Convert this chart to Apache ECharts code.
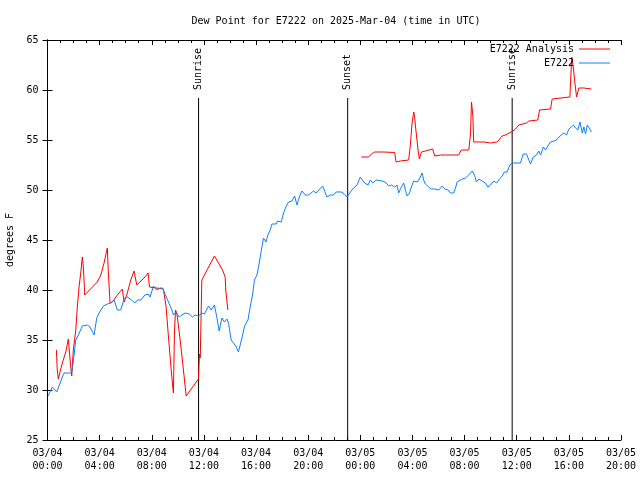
<!DOCTYPE html>
<html>
<head>
<meta charset="utf-8">
<script src="https://cdn.jsdelivr.net/npm/echarts@6/dist/echarts.min.js"></script>
<style>html,body{margin:0;padding:0;background:#fff}#c{width:640px;height:480px}</style>
</head>
<body>
<div id="c"></div>
<script>
// x values are hours since 2025-03-04 00:00 UTC
const xTickLabels = ['03/04\n00:00','03/04\n04:00','03/04\n08:00','03/04\n12:00','03/04\n16:00','03/04\n20:00',
                     '03/05\n00:00','03/05\n04:00','03/05\n08:00','03/05\n12:00','03/05\n16:00','03/05\n20:00'];

const analysisHours1 = [0.68,0.75,0.83,0.94,1.14,1.40,1.60,1.73,1.78,1.86,1.98,2.17,2.29,2.42,2.55,2.67,2.75,2.86,
  3.82,4.09,4.34,4.59,4.67,4.80,4.98,5.24,5.74,5.88,6.08,6.39,6.64,6.77,6.85,7.41,7.72,7.82,8.89,9.10,9.28,9.49,
  9.62,9.66,9.74,9.82,9.92,10.18,10.43,10.64,11.58,11.66,11.72,11.84,12.81,13.43,13.63,13.69,13.84];
const analysisValues1 = [34.0,32.0,31.1,31.7,32.7,33.8,35.1,35.3,32.3,31.4,34.0,36.0,38.3,40.3,41.7,43.3,42.3,39.5,
  40.8,41.5,42.7,44.2,41.7,38.7,38.8,39.3,40.1,38.8,39.5,41.0,41.9,41.7,40.5,41.2,41.7,40.3,40.1,38.3,35.3,32.0,
  30.2,29.7,35.7,38.0,37.7,35.0,32.0,29.4,31.1,33.6,33.2,41.0,43.4,42.0,41.3,39.8,38.0];
const analysisHours2 = [24.08,24.64,24.85,25.10,25.79,26.64,26.74,27.07,27.71,27.84,27.97,28.10,28.17,28.28,28.43,28.53,
  28.69,28.99,29.55,29.71,30.15,30.53,30.66,30.99,31.55,31.74,32.32,32.45,32.53,32.63,32.70,33.47,33.60,33.99,34.50,
  34.88,35.14,35.58,35.91,36.16,36.75,36.93,37.62,37.75,38.59,38.72,40.08,40.22,40.34,40.44,40.59,40.77,41.15,41.72];
const analysisValues2 = [53.3,53.3,53.6,53.8,53.8,53.75,52.8,52.9,53.0,54.5,56.7,57.8,57.2,55.8,54.0,53.1,
  53.8,53.9,54.1,53.4,53.5,53.5,53.3,53.5,53.5,54.0,54.0,55.5,58.8,57.5,54.8,54.8,54.6,54.7,54.8,
  55.4,55.5,55.8,56.1,56.5,56.7,56.9,57.0,58.0,58.1,59.1,59.3,63.3,62.3,61.0,59.3,60.2,60.2,60.1];

const obsHours = [0.04,0.37,0.50,0.71,0.86,1.14,1.27,1.83,1.90,2.04,2.17,2.37,2.67,3.06,3.26,3.57,3.78,3.96,4.29,4.59,
  4.85,5.11,5.36,5.62,5.88,6.13,6.44,6.70,6.90,7.16,7.47,7.72,7.87,8.13,8.39,8.64,8.82,9.02,9.28,9.54,9.66,9.85,
  10.10,10.31,10.56,10.87,11.12,11.33,11.58,11.84,12.04,12.35,12.56,12.81,13.00,13.17,13.38,13.58,13.76,13.89,14.09,
  14.27,14.45,14.65,14.92,15.12,15.38,15.55,15.73,15.88,16.07,16.19,16.32,16.45,16.57,16.76,16.91,17.09,17.22,17.53,
  17.65,17.93,18.11,18.29,18.49,18.76,18.96,19.14,19.32,19.52,19.78,20.03,20.41,20.60,20.75,21.11,21.44,21.70,21.95,
  22.14,22.60,22.80,22.98,23.23,23.49,23.75,24.00,24.13,24.33,24.59,24.77,24.95,25.21,25.67,25.92,26.18,26.38,26.64,
  26.82,26.94,27.15,27.33,27.46,27.59,27.77,27.97,28.10,28.36,28.53,28.74,28.86,28.99,29.25,29.45,29.71,30.02,30.28,
  30.48,30.74,30.91,31.17,31.30,31.43,31.81,32.07,32.32,32.58,32.76,32.91,33.09,33.35,33.60,33.78,33.99,34.24,34.45,
  34.62,34.88,35.06,35.27,35.47,35.65,36.29,36.50,36.75,36.93,37.06,37.27,37.52,37.70,37.83,38.04,38.21,38.39,38.59,
  38.85,39.06,39.23,39.42,39.62,39.82,40.00,40.18,40.34,40.51,40.69,40.85,41.03,41.15,41.28,41.41,41.61,41.72];
const obsValues = [29.4,30.3,30.3,29.8,29.8,31.3,31.7,31.7,32.0,33.5,35.0,35.5,36.4,36.5,36.3,35.5,37.2,37.7,38.4,38.6,
  38.7,39.0,38.0,38.0,39.1,39.3,39.0,38.7,39.0,39.0,39.5,39.6,39.3,40.4,40.0,40.2,40.2,39.6,38.8,38.0,37.5,37.8,
  37.3,37.5,37.7,37.6,37.3,37.5,37.4,37.7,37.6,38.4,38.0,38.5,37.2,35.9,37.2,36.8,37.1,36.7,35.0,
  34.7,34.4,33.8,35.2,36.4,37.0,38.3,39.5,41.0,41.5,42.3,43.3,44.3,45.2,44.8,45.5,46.0,46.6,46.6,
  46.9,46.8,47.7,48.3,48.8,48.9,49.4,48.5,49.3,49.9,49.5,49.5,49.9,49.7,49.5,50.4,49.3,49.5,49.5,
  49.8,49.8,49.5,49.3,49.8,50.2,50.5,51.3,51.2,50.7,50.5,51.0,50.7,51.0,50.9,50.8,50.4,50.5,50.3,
  50.5,49.7,50.3,50.7,50.0,49.4,49.7,50.5,50.9,50.8,51.1,51.7,51.0,50.6,50.3,50.1,50.1,50.0,50.4,
  50.1,50.0,49.7,49.7,50.2,50.8,51.1,51.2,51.5,51.9,51.5,50.8,51.1,50.9,50.7,50.3,50.5,50.9,50.7,
  51.0,51.4,51.8,51.8,52.5,52.7,52.7,53.6,53.6,53.0,52.6,53.3,53.5,53.9,53.5,54.3,54.0,54.4,54.8,
  54.9,55.0,55.3,55.5,55.7,55.5,56.1,56.3,56.5,56.2,56.0,56.8,55.7,56.3,55.6,56.5,56.1,55.8];

const eventNames = ['Sunrise', 'Sunset', 'Sunrise'];
const eventHours = [11.59, 23.03, 35.65];
const eventTop = 59.2;
const yMin = 25, yMax = 65;

const FONT = '"DejaVu Sans Mono", "Liberation Mono", monospace';
const zip = (a, b) => a.map((h, i) => [h, b[i]]);
const analysisData = zip(analysisHours1, analysisValues1).concat([[18, '-']], zip(analysisHours2, analysisValues2));
const obsData = zip(obsHours, obsValues);

const eventSeries = eventNames.map((n, i) => ({
  type: 'line', name: 'ev' + i, silent: true, legendHoverLink: false, z: 1,
  symbol: 'circle', symbolSize: 0, showSymbol: true,
  lineStyle: { color: '#000', width: 1 }, itemStyle: { color: '#000' },
  data: [
    { value: [eventHours[i], yMin] },
    { value: [eventHours[i], eventTop],
      label: { show: true, formatter: n, rotate: 90, position: 'top', distance: 6,
               align: 'left', verticalAlign: 'middle', offset: [2, 0],
               fontFamily: FONT, fontSize: 10, color: '#000' } }
  ],
  animation: false
}));

const axisCommon = {
  type: 'value', min: 0, max: 44, interval: 4,
  axisLine: { show: true, lineStyle: { color: '#000', width: 1 } },
  axisTick: { show: true, inside: true, length: 5, lineStyle: { color: '#000' } },
  minorTick: { show: true, splitNumber: 4, length: 3, lineStyle: { color: '#000' } },
  splitLine: { show: false }
};
const yCommon = {
  type: 'value', min: yMin, max: yMax, interval: 5,
  axisLine: { show: true, lineStyle: { color: '#000', width: 1 } },
  axisTick: { show: true, inside: true, length: 5, lineStyle: { color: '#000' } },
  splitLine: { show: false }
};

const chart = echarts.init(document.getElementById('c'), null, { renderer: 'canvas' });
chart.setOption({
  animation: false,
  backgroundColor: '#fff',
  title: {
    text: 'Dew Point for E7222 on 2025-Mar-04 (time in UTC)',
    left: 331, top: 11, textAlign: 'center',
    textStyle: { fontFamily: FONT, fontSize: 10, fontWeight: 'normal', color: '#000' }
  },
  legend: [
    { data: ['E7222 Analysis'], orient: 'vertical', right: 30, top: 44, padding: 0, align: 'right',
      icon: 'rect', itemWidth: 31, itemHeight: 1, selectedMode: false,
      textStyle: { fontFamily: FONT, fontSize: 10, color: '#000' } },
    { data: ['E7222'], orient: 'vertical', right: 30, top: 58, padding: 0, align: 'right',
      icon: 'rect', itemWidth: 31, itemHeight: 1, selectedMode: false,
      textStyle: { fontFamily: FONT, fontSize: 10, color: '#000' } }
  ],
  grid: { left: 47.5, right: 19, top: 40, bottom: 40, containLabel: false, outerBoundsMode: 'none' },
  xAxis: [
    Object.assign({}, axisCommon, {
      position: 'bottom',
      axisLabel: { show: true, margin: 7, fontFamily: FONT, fontSize: 10, color: '#000', lineHeight: 13,
                   formatter: v => xTickLabels[Math.round(v / 4)] }
    }),
    Object.assign({}, axisCommon, { position: 'top', axisLabel: { show: false } })
  ],
  yAxis: [
    Object.assign({}, yCommon, {
      position: 'left', name: 'degrees F', nameLocation: 'middle', nameRotate: 90, nameGap: 32,
      nameTextStyle: { fontFamily: FONT, fontSize: 10, color: '#000' },
      axisLabel: { show: true, margin: 9, fontFamily: FONT, fontSize: 10, color: '#000' }
    }),
    Object.assign({}, yCommon, { position: 'right', axisLabel: { show: false } })
  ],
  series: eventSeries.concat([
    { type: 'line', name: 'E7222 Analysis', data: analysisData, symbol: 'none', connectNulls: false,
      lineStyle: { color: '#ff0000', width: 1 }, itemStyle: { color: '#ff0000' }, z: 2 },
    { type: 'line', name: 'E7222', data: obsData, symbol: 'none',
      lineStyle: { color: '#0c80ff', width: 1 }, itemStyle: { color: '#0c80ff' }, z: 3 }
  ])
});
</script>
</body>
</html>
